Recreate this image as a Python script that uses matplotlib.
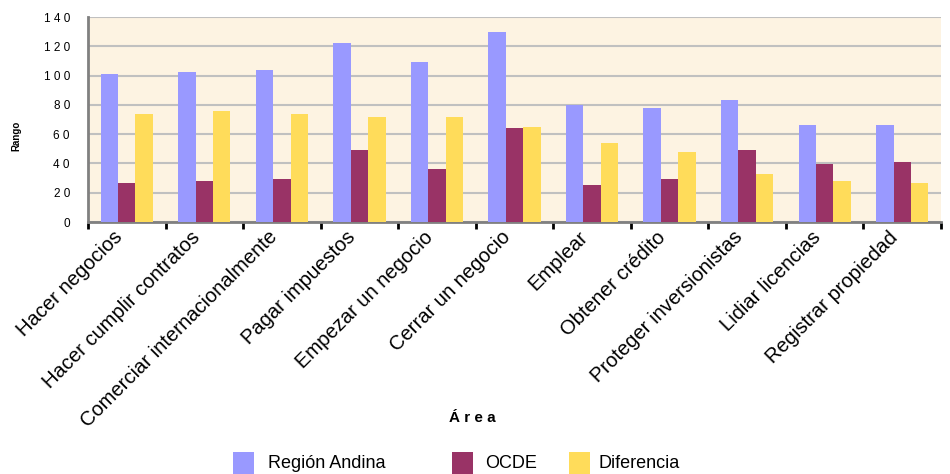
import matplotlib.pyplot as plt
from matplotlib.patches import Rectangle
from matplotlib.transforms import ScaledTranslation
import numpy as np

# Data -------------------------------------------------------------------

areas = ['Hacer negocios', 'Hacer cumplir contratos', 'Comerciar internacionalmente',
         'Pagar impuestos', 'Empezar un negocio', 'Cerrar un negocio', 'Emplear',
         'Obtener crédito', 'Proteger inversionistas', 'Lidiar licencias',
         'Registrar propiedad']
region_andina = [101, 102.5, 104, 122, 109, 130, 80, 78, 83, 66.5, 66.5]
ocde = [26.5, 28, 29.5, 49, 36, 64, 25, 29.5, 49, 39.5, 41]
diferencia = [73.5, 75.5, 73.5, 71.5, 71.5, 65, 54, 47.5, 33, 28, 26.5]

series_names = ['Región Andina', 'OCDE', 'Diferencia']
colors = ['#9999ff', '#993366', '#ffdc5a']

yticks = [0, 20, 40, 60, 80, 100, 120, 140]

#-------------------------------------------------------------------------

plt.rcParams['font.family'] = ['Liberation Sans', 'DejaVu Sans']

fig = plt.figure(figsize=(9.5, 4.74), dpi=100)
ax = fig.add_axes([88/950, 1 - 222/474, 853/950, 205/474])
ax.set_facecolor('#fdf3e2')

x = np.arange(len(areas))
w = 0.225
for off, vals, name, c in zip([-w, 0, w], [region_andina, ocde, diferencia],
                              series_names, colors):
    ax.bar(x + off, vals, w, color=c, label=name, zorder=3)

ax.set_xlim(-0.5, len(areas) - 0.5)
ax.set_ylim(0, 140)

# spaced digits on the value axis
ax.set_yticks(yticks)
ax.set_yticklabels([' '.join(str(v)) for v in yticks], fontsize=8.5)
ax.tick_params(axis='y', length=0, pad=13)
ax.yaxis.grid(True, color='#c0c0c0', linewidth=1.5, zorder=1)

# category ticks sit between the groups, labels at the group centres
ax.set_xticks(np.arange(-0.5, len(areas)), minor=False)
ax.set_xticklabels([])
ax.tick_params(axis='x', which='major', length=5, width=2, color='black', direction='out')
ax.set_xticks(x, minor=True)
ax.set_xticklabels(areas, minor=True, rotation=45, ha='right', rotation_mode='anchor',
                   fontsize=14.5)
ax.tick_params(axis='x', which='minor', length=0, pad=4)
shift = ScaledTranslation(-14/100, 0, fig.dpi_scale_trans)
for lbl in ax.get_xticklabels(minor=True):
    lbl.set_transform(lbl.get_transform() + shift)

for s in ['top', 'right']:
    ax.spines[s].set_visible(False)
for s in ['left', 'bottom']:
    ax.spines[s].set_color('#808080')
    ax.spines[s].set_linewidth(2)

ax.set_ylabel('Rango', fontsize=7, fontweight='bold')
ax.yaxis.set_label_coords(-0.078, 0.42)
fig.text(472/950, 1 - 418/474, 'Á r e a', ha='center', va='center',
         fontsize=11, fontweight='bold')

# legend row along the bottom
leg_y = 1 - 463/474
for sx, tx, name, c in zip([233, 452, 569], [268, 485, 598], series_names, colors):
    fig.add_artist(Rectangle((sx/950, leg_y - 11/474), 21/950, 22/474,
                             transform=fig.transFigure, facecolor=c, edgecolor='none'))
    fig.text(tx/950, leg_y, name, ha='left', va='center', fontsize=13)

plt.savefig('out.png', dpi=100)
